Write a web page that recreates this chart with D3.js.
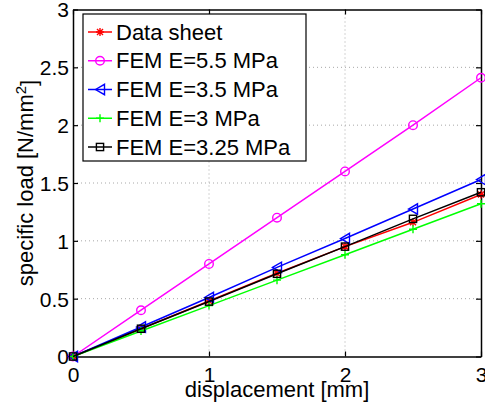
<!DOCTYPE html>
<html><head><meta charset="utf-8">
<script src="https://cdn.jsdelivr.net/npm/d3@7"></script>
<style>body{margin:0;background:#fff}svg{display:block}</style>
</head><body>
<svg id="c" width="485" height="411"></svg>
<script>
const xValues = [0, 0.5, 1, 1.5, 2, 2.5, 3];
const dataSheet = [0, 0.24, 0.48, 0.72, 0.95, 1.16, 1.40];
const fem55 = [0, 0.40, 0.80, 1.20, 1.60, 2.00, 2.41];
const fem35 = [0, 0.255, 0.51, 0.77, 1.02, 1.275, 1.53];
const fem3 = [0, 0.22, 0.44, 0.66, 0.88, 1.10, 1.32];
const fem325 = [0, 0.24, 0.475, 0.715, 0.95, 1.19, 1.42];
const seriesNames = ["Data sheet", "FEM E=5.5 MPa", "FEM E=3.5 MPa", "FEM E=3 MPa", "FEM E=3.25 MPa"];
const xTicks = [0, 1, 2, 3];
const yTicks = [0, 0.5, 1, 1.5, 2, 2.5, 3];

const series = [
  {name: seriesNames[0], values: dataSheet, color: "#ff0000", marker: "star"},
  {name: seriesNames[1], values: fem55, color: "#ff00ff", marker: "circle"},
  {name: seriesNames[2], values: fem35, color: "#0000ff", marker: "triangle"},
  {name: seriesNames[3], values: fem3, color: "#00ff00", marker: "plus"},
  {name: seriesNames[4], values: fem325, color: "#000000", marker: "square"}
];

const L = 73, R = 481, T = 9.5, B = 356.5;
const x = d3.scaleLinear().domain([0, 3]).range([L, R]);
const y = d3.scaleLinear().domain([0, 3]).range([B, T]);
const svg = d3.select("#c");
const font = "'Liberation Sans', Arial, Helvetica, sans-serif";
const fsTick = 21;
const fs = 22;

// grid
const g = svg.append("g");
g.selectAll(".gx").data(xTicks.slice(1, -1)).enter().append("line")
  .attr("x1", d => x(d)).attr("x2", d => x(d)).attr("y1", T).attr("y2", B)
  .attr("stroke", "#a8a8a8").attr("stroke-width", 1).attr("stroke-dasharray", "1,3");
g.selectAll(".gy").data(yTicks.slice(1, -1)).enter().append("line")
  .attr("y1", d => y(d)).attr("y2", d => y(d)).attr("x1", L).attr("x2", R)
  .attr("stroke", "#a8a8a8").attr("stroke-width", 1).attr("stroke-dasharray", "1,3");

// axes with inward ticks
const ax = svg.append("g").attr("transform", `translate(0,${B})`)
  .call(d3.axisBottom(x).tickValues(xTicks).tickSizeInner(-5).tickSizeOuter(0).tickPadding(11).tickFormat(d3.format("~g")));
const axTop = svg.append("g").attr("transform", `translate(0,${T})`)
  .call(d3.axisTop(x).tickValues(xTicks).tickSizeInner(-5).tickSizeOuter(0).tickFormat(""));
const ay = svg.append("g").attr("transform", `translate(${L},0)`)
  .call(d3.axisLeft(y).tickValues(yTicks).tickSizeInner(-5).tickSizeOuter(0).tickPadding(4).tickFormat(d3.format("~g")));
const ayR = svg.append("g").attr("transform", `translate(${R},0)`)
  .call(d3.axisRight(y).tickValues(yTicks).tickSizeInner(-5).tickSizeOuter(0).tickFormat(""));
[ax, axTop, ay, ayR].forEach(a => {
  a.select(".domain").attr("stroke", "#000").attr("stroke-width", 1.5);
  a.selectAll(".tick line").attr("stroke", "#000").attr("stroke-width", 1.2);
  a.selectAll("text").attr("font-family", font).attr("font-size", fsTick).attr("fill", "#000");
});
ax.selectAll(".tick text").attr("dy", "0.71em");
ay.selectAll(".tick text").attr("dy", "0.35em");

// axis labels
svg.append("text").attr("x", (L + R) / 2).attr("y", 397).attr("text-anchor", "middle")
  .attr("font-family", font).attr("font-size", fs).text("displacement [mm]");
const yl = svg.append("text").attr("transform", `translate(33,${(T + B) / 2}) rotate(-90)`)
  .attr("text-anchor", "middle").attr("font-family", font).attr("font-size", fs);
yl.append("tspan").text("specific load [N/mm");
yl.append("tspan").attr("dy", "-0.45em").attr("font-size", 15).text("2");
yl.append("tspan").attr("dy", "0.45em").text("]");

function drawMarker(sel, type, color, cx, cy) {
  const s = 4;
  const p = sel.append("g").attr("transform", `translate(${cx},${cy})`)
    .attr("fill", "none").attr("stroke", color).attr("stroke-width", 1.4);
  if (type === "circle") p.append("circle").attr("r", 4.3);
  else if (type === "square") p.append("rect").attr("x", -3.6).attr("y", -3.6).attr("width", 7.2).attr("height", 7.2);
  else if (type === "triangle") p.append("path").attr("d", `M-4.5,0L4.5,-5.2L4.5,5.2Z`);
  else if (type === "plus") p.append("path").attr("d", `M-${s},0H${s}M0,-${s}V${s}`);
  else if (type === "star") {
    p.append("path").attr("d", `M-${s},0H${s}M0,-${s}V${s}M-3,-3L3,3M-3,3L3,-3`);
  }
}

// series
const lineGen = d3.line().x((d, i) => x(xValues[i])).y(d => y(d));
series.forEach(s => {
  const sg = svg.append("g");
  sg.append("path").attr("d", lineGen(s.values)).attr("fill", "none")
    .attr("stroke", s.color).attr("stroke-width", 1.5);
  s.values.forEach((v, i) => drawMarker(sg, s.marker, s.color, x(xValues[i]), y(v)));
});

// legend
const lg = svg.append("g");
lg.append("rect").attr("x", 83).attr("y", 14).attr("width", 223).attr("height", 147)
  .attr("fill", "#fff").attr("stroke", "#000").attr("stroke-width", 1.2);
series.forEach((s, i) => {
  const cy = 32 + i * 28.75;
  lg.append("line").attr("x1", 88).attr("x2", 112).attr("y1", cy).attr("y2", cy)
    .attr("stroke", s.color).attr("stroke-width", 1.5);
  drawMarker(lg, s.marker, s.color, 100, cy);
  lg.append("text").attr("x", 116).attr("y", cy + 7.5).attr("font-family", font)
    .attr("font-size", fs).text(s.name);
});
</script>
</body></html>
